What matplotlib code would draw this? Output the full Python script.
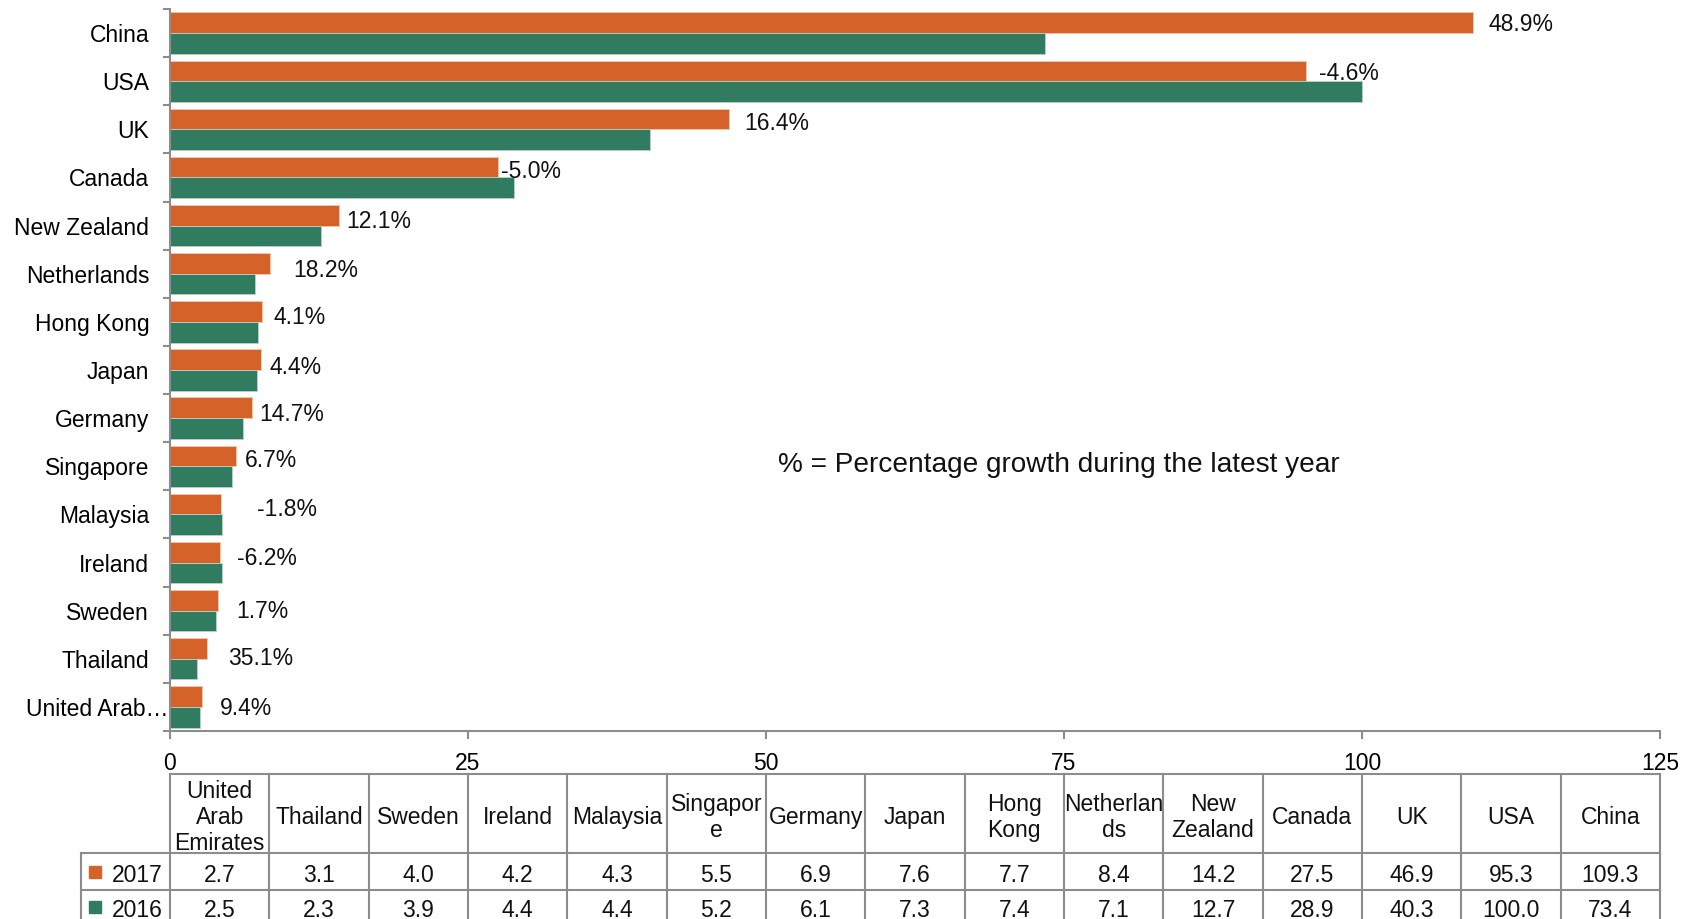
import numpy as np
import matplotlib
matplotlib.use('Agg')
import matplotlib.pyplot as plt
import matplotlib.transforms as mtransforms

plt.rcParams['font.family'] = ['Liberation Sans', 'DejaVu Sans']

# 数据 (自下而上, 与表格列顺序一致)
countries = ['United Arab Emirates', 'Thailand', 'Sweden', 'Ireland', 'Malaysia',
             'Singapore', 'Germany', 'Japan', 'Hong Kong', 'Netherlands',
             'New Zealand', 'Canada', 'UK', 'USA', 'China']
axis_labels = ['United Arab…', 'Thailand', 'Sweden', 'Ireland', 'Malaysia',
               'Singapore', 'Germany', 'Japan', 'Hong Kong', 'Netherlands',
               'New Zealand', 'Canada', 'UK', 'USA', 'China']
header_labels = ['United\nArab\nEmirates', 'Thailand', 'Sweden', 'Ireland', 'Malaysia',
                 'Singapor\ne', 'Germany', 'Japan', 'Hong\nKong', 'Netherlan\nds',
                 'New\nZealand', 'Canada', 'UK', 'USA', 'China']
v2017 = [2.7, 3.1, 4.0, 4.2, 4.3, 5.5, 6.9, 7.6, 7.7, 8.4, 14.2, 27.5, 46.9, 95.3, 109.3]
v2016 = [2.5, 2.3, 3.9, 4.4, 4.4, 5.2, 6.1, 7.3, 7.4, 7.1, 12.7, 28.9, 40.3, 100.0, 73.4]
growth = [9.4, 35.1, 1.7, -6.2, -1.8, 6.7, 14.7, 4.4, 4.1, 18.2, 12.1, -5.0, 16.4, -4.6, 48.9]
years = ['2017', '2016']

# 标签微调 (数据单位)
label_dx = [1.5, 1.75, 1.55, 1.45, 3.0, 0.8, 0.55, 0.75, 0.95, 1.95, 0.6, 0.3, 1.3, 1.1, 1.3]
label_dy = [-0.03, 0.0, -0.02, 0.08, 0.10, 0.13, 0.08, 0.06, 0.10, 0.07, 0.08, 0.12, 0.13, 0.16, 0.18]

C17 = '#D56228'
C16 = '#317B61'
GRID = '#8C8C8C'

W, H = 1698, 919
fig = plt.figure(figsize=(W / 100, H / 100), dpi=100)

# ---------------- 条形图 ----------------
x0, x1, y_top, y_bot = 170, 1660, 9, 731
ax = fig.add_axes([x0 / W, 1 - y_bot / H, (x1 - x0) / W, (y_bot - y_top) / H])

y = np.arange(len(countries))
h = 0.43
ax.barh(y + h / 2, v2017, height=h, color=C17, edgecolor='#F3C7AE', linewidth=0.6)
ax.barh(y - h / 2, v2016, height=h, color=C16, edgecolor='#B9D3C8', linewidth=0.6)

for i in range(len(countries)):
    ax.text(v2017[i] + label_dx[i], y[i] + label_dy[i], f'{growth[i]:.1f}%',
            ha='left', va='center', fontsize=16.5, color='#111111')

ax.text(74.6, 5.03, '% = Percentage growth during the latest year',
        ha='center', va='center', fontsize=20.2, color='#111111')

ax.set_xlim(0, 125)
ax.set_ylim(-0.5, len(countries) - 0.5)
ax.set_xticks(np.arange(0, 126, 25))
ax.set_yticks(y)
ax.set_yticklabels(axis_labels, fontsize=16.5)
ax.set_yticks(np.arange(-0.5, len(countries), 1), minor=True)
ax.tick_params(axis='y', which='major', length=0, pad=15)
ax.tick_params(axis='y', which='minor', length=5, width=1.5, color=GRID, direction='out')
ax.tick_params(axis='x', length=6, width=1.5, color=GRID, direction='out', pad=9,
               labelsize=16.5)
for side in ['top', 'right']:
    ax.spines[side].set_visible(False)
for side in ['left', 'bottom']:
    ax.spines[side].set_color(GRID)
    ax.spines[side].set_linewidth(1.5)

# 截断的长标签一直延伸到坐标轴
lbl = ax.get_yticklabels()[0]
lbl.set_transform(lbl.get_transform() +
                  mtransforms.ScaledTranslation(19 / 100, 0, fig.dpi_scale_trans))

# ---------------- 数据表 ----------------
t_left, t_top, t_bot = 81.2, 774.3, 927
tab = fig.add_axes([t_left / W, 1 - t_bot / H, (x1 - t_left) / W, (t_bot - t_top) / H])
col_w = (x1 - x0) / len(countries)
lab_w = (x0 - t_left) / col_w
tab.set_xlim(-lab_w, len(countries))
rows = [0, 79, 116, 153]
tab.set_ylim(rows[-1], 0)
tab.axis('off')

lw = 1.5
n = len(countries)
# 横线
tab.plot([0, n], [rows[0]] * 2, color=GRID, lw=lw, clip_on=False)
for r in rows[1:]:
    tab.plot([-lab_w, n], [r] * 2, color=GRID, lw=lw, clip_on=False)
# 竖线
for c in range(n + 1):
    tab.plot([c, c], [rows[0], rows[-1]], color=GRID, lw=lw, clip_on=False)
tab.plot([-lab_w, -lab_w], [rows[1], rows[-1]], color=GRID, lw=lw, clip_on=False)

row_shift = [3.5, 1.5]
for c in range(n):
    tab.text(c + 0.5, (rows[0] + rows[1]) / 2 + 4, header_labels[c], ha='center',
             va='center', fontsize=16.5, linespacing=1.17, color='#111111')
    tab.text(c + 0.5, (rows[1] + rows[2]) / 2 + row_shift[0], f'{v2017[c]:.1f}',
             ha='center', va='center', fontsize=16.5, color='#111111')
    tab.text(c + 0.5, (rows[2] + rows[3]) / 2 + row_shift[1], f'{v2016[c]:.1f}',
             ha='center', va='center', fontsize=16.5, color='#111111')

for k, (yr, colr) in enumerate(zip(years, [C17, C16])):
    yc = (rows[k + 1] + rows[k + 2]) / 2
    tab.plot([-lab_w + 14 / col_w], [yc - 2 * k], marker='s', markersize=8,
             color=colr, linestyle='none', clip_on=False)
    tab.text(-lab_w + 31 / col_w, yc + row_shift[k], yr, ha='left', va='center',
             fontsize=16.5, color='#111111')

fig.savefig('out.png', dpi=100)
